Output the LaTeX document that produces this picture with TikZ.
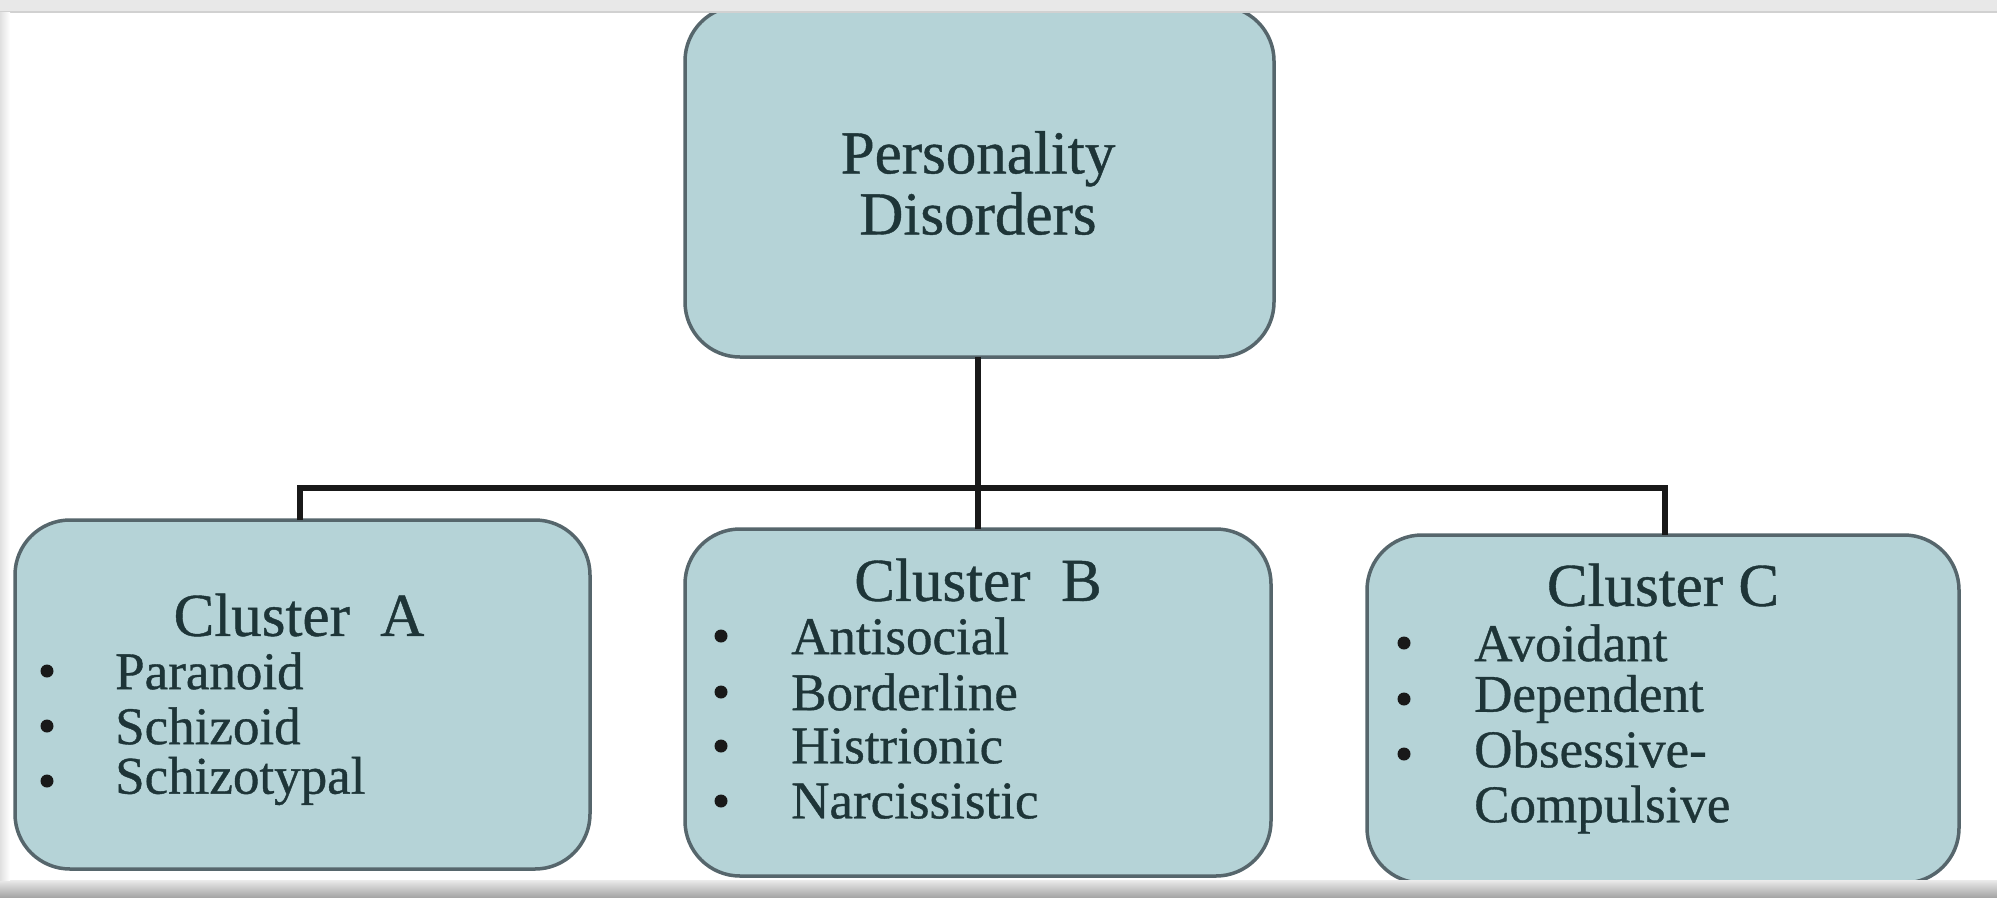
\documentclass[tikz,border=0pt]{standalone}
\usepackage{fontspec}
\setmainfont[FakeBold=0.7]{Liberation Serif}
\begin{document}
\begin{tikzpicture}[x=1pt,y=-1pt,
  box/.style={draw=boxline,fill=boxfill,line width=3.5pt,rounded corners=55pt},
  conn/.style={line width=6pt,draw=black!90},
  title/.style={inner sep=0pt,text=txt,font=\fontsize{61}{61}\selectfont},
  item/.style={inner sep=0pt,anchor=west,text=txt,font=\fontsize{53}{55}\selectfont},
  dot/.style={circle,fill=black!90,inner sep=0pt,minimum size=13pt}]
\definecolor{boxfill}{HTML}{B5D3D7}
\definecolor{boxline}{HTML}{56666C}
\definecolor{txt}{HTML}{1E3538}
\useasboundingbox (0,0) rectangle (1997,897);
\fill[white] (0,0) rectangle (1997,897);
% boxes
\draw[box] (685,6) rectangle (1274,357);
\node[title,align=center] (top) at (978,183) {Personality\\Disorders};
\coordinate (topb) at (978,357);
\draw[box] (15,520) rectangle (590,869);
\coordinate (An) at (300,520);
\draw[box] (685,529) rectangle (1271,876);
\coordinate (Bn) at (978,529);
\draw[box] (1367,535) rectangle (1959,883);
\coordinate (Cn) at (1665,535);
% connectors
\coordinate (j) at (978,488);
\draw[conn] (topb) -- (j);
\draw[conn] (An) |- (j) -| (Cn);
\draw[conn] (j) -- (Bn);
% Cluster A
\node[title] (tA) at (299,615) {Cluster\ \ A};
\node[item] (a1) at (115,671) {Paranoid};
\node[item] (a2) at (115,726) {Schizoid};
\node[item] (a3) at (115,781) {Schizotypal};
\node[dot] (da1) at (47,671) {};
\node[dot] (da2) at (47,726) {};
\node[dot] (da3) at (47,781) {};
% Cluster B
\node[title] (tB) at (978,580) {Cluster\ \ B};
\node[item] (b1) at (791,636) {Antisocial};
\node[item] (b2) at (791,692) {Borderline};
\node[item] (b3) at (791,746) {Histrionic};
\node[item] (b4) at (791,801) {Narcissistic};
\node[dot] (db1) at (721,636) {};
\node[dot] (db2) at (721,692) {};
\node[dot] (db3) at (721,746) {};
\node[dot] (db4) at (721,801) {};
% Cluster C
\node[title] (tC) at (1663,585) {Cluster C};
\node[item] (c1) at (1474,643) {Avoidant};
\node[item] (c2) at (1474,699) {Dependent};
\node[item,align=left] (c3) at (1474,782) {Obsessive-\\Compulsive};
\node[dot] (dc1) at (1404,643) {};
\node[dot] (dc2) at (1404,699) {};
\node[dot] (dc3) at (1404,754) {};
% frame bands
\fill[black!9] (0,0) rectangle (1997,12);
\fill[black!18] (0,11) rectangle (1997,13);
\shade[top color=black!8,bottom color=black!35] (0,880) rectangle (1997,897);
\shade[left color=black!12,right color=white] (0,12) rectangle (10,880);
\end{tikzpicture}
\end{document}
